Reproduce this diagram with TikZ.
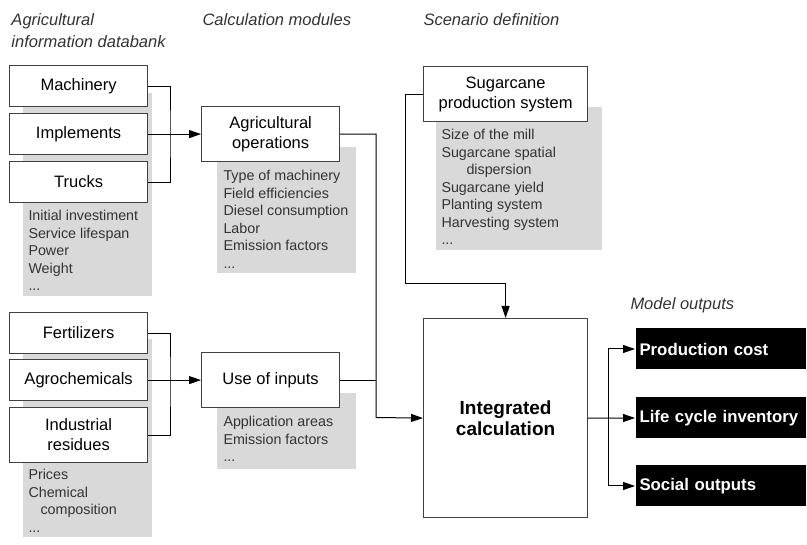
\documentclass[tikz,border=0pt]{standalone}
\usepackage{fontspec}
\setmainfont{Liberation Sans}
\usetikzlibrary{arrows.meta}

\definecolor{boxline}{HTML}{404040}
\definecolor{panelgray}{HTML}{D9D9D9}
\definecolor{listtext}{HTML}{333333}

\tikzset{
  databox/.style={draw=boxline, line width=1.2pt, fill=white, minimum width=138pt,
    minimum height=41pt, inner sep=0pt, align=center, anchor=north west,
    font=\fontsize{16.5}{20}\selectfont},
  calcbox/.style={databox, minimum height=55pt},
  outbox/.style={fill=black, text=white, minimum height=41pt, text width=162pt,
    inner xsep=4pt, inner ysep=0pt, align=left, anchor=north west,
    font=\bfseries\fontsize{16.8}{20}\selectfont},
  listtext/.style={anchor=north west, inner sep=0pt, align=left, text=listtext,
    font=\fontsize{14.3}{17.5}\selectfont},
  heading/.style={anchor=north west, inner sep=0pt, align=left, text=listtext,
    font=\itshape\fontsize{16.5}{21.5}\selectfont},
  flow/.style={-{Triangle[length=12pt,width=8pt]}},
}

\begin{document}
\begin{tikzpicture}[x=1pt, y=-1pt, line width=1pt]
\useasboundingbox (0,0) rectangle (807,545);

% headings
\node[heading] (hdata) at (11,13.5) {Agricultural\\information databank};
\node[heading] (hcalc) at (202,13.5) {Calculation modules};
\node[heading] (hscen) at (423,13.5) {Scenario definition};
\node[heading] (hout) at (630,297.5) {Model outputs};

% grey panels
\fill[panelgray] (23,93) rectangle (152,296);
\fill[panelgray] (23,339) rectangle (152,537);
\fill[panelgray] (217,147) rectangle (356,273);
\fill[panelgray] (217,393) rectangle (356,469);
\fill[panelgray] (436,107) rectangle (602,250);

\node[listtext] (lmach) at (28,210) {Initial investiment\\Service lifespan\\Power\\Weight\\...};
\node[listtext] (lfert) at (28,469) {Prices\\Chemical\\\hspace*{12pt}composition\\...};
\node[listtext] (lops) at (223,170) {Type of machinery\\Field efficiencies\\Diesel consumption\\Labor\\Emission factors\\...};
\node[listtext] (linp) at (223,416) {Application areas\\Emission factors\\...};
\node[listtext] (lsugar) at (441,129) {Size of the mill\\Sugarcane spatial\\\hspace*{25pt}dispersion\\Sugarcane yield\\Planting system\\Harvesting system\\...};

% databank
\node[databox] (machinery) at (9,65) {Machinery};
\node[databox] (implements) at (9,113) {Implements};
\node[databox] (trucks) at (9,161) {Trucks};
\node[databox] (fertilizers) at (9,312) {Fertilizers};
\node[databox] (agrochem) at (9,359) {Agrochemicals};
\node[databox, minimum height=55pt] (residues) at (9,407) {Industrial\\residues};

% calculation modules
\node[calcbox] (agriops) at (201,106) {Agricultural\\operations};
\node[calcbox] (inputs) at (201,352) {Use of inputs};
\node[databox, minimum width=164pt, minimum height=55pt] (sugarcane) at (423,66) {Sugarcane\\production system};
\node[databox, minimum width=164pt, minimum height=199pt, font=\bfseries\fontsize{19}{21.5}\selectfont] (integrated) at (423,318) {Integrated\\calculation};

% outputs
\node[outbox] (cost) at (635,328) {Production cost};
\node[outbox] (lci) at (635,397) {Life cycle inventory};
\node[outbox] (social) at (635,465) {Social outputs};

% connectors
\coordinate (busmach) at (170,133.5);
\coordinate (busfert) at (170,379.5);
\coordinate (busin) at (376,417.5);
\coordinate (sbend) at (405,284);
\coordinate (busout) at (608,417.5);

\draw (machinery.east) -| (busmach) |- (trucks.east);
\draw[flow] (implements.east) -- (agriops.west);
\draw (fertilizers.east) -| (busfert) |- (residues.east);
\draw[flow] (agrochem.east) -- (inputs.west);
\draw[flow] (agriops.east) -| (busin) -- (integrated.west);
\draw (inputs.east) -- (inputs.east -| busin);
\draw[flow] (sugarcane.west) -| (sbend) -| (integrated.north);
\draw[flow] (integrated.east) -- (lci.west);
\draw[flow] (busout) |- (cost.west);
\draw[flow] (busout) |- (social.west);
\end{tikzpicture}
\end{document}
